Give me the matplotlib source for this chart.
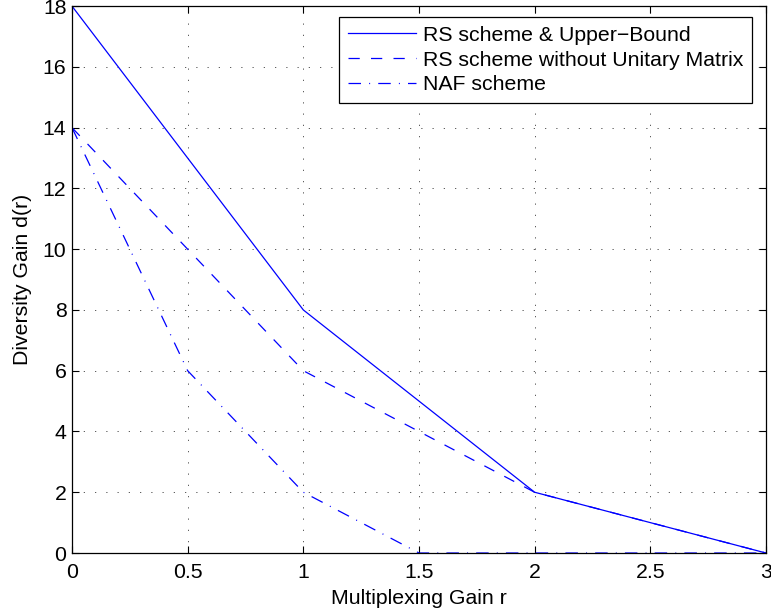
import matplotlib
matplotlib.use("Agg")
import matplotlib.pyplot as plt

plt.rcParams['font.family'] = ['Liberation Sans', 'DejaVu Sans']

# data
r = [0, 0.5, 1, 1.5, 2, 2.5, 3]
d_rs = [18, 13, 8, 5, 2, 1, 0]
d_rs_nounitary = [14, 10, 6, 4, 2, 1, 0]
d_naf = [14, 6, 2, 0, 0, 0, 0]
labels = ['RS scheme & Upper\u2212Bound',
          'RS scheme without Unitary Matrix',
          'NAF scheme']
xticks = [0, 0.5, 1, 1.5, 2, 2.5, 3]
xticklabels = ['0', '0.5', '1', '1.5', '2', '2.5', '3']
yticks = list(range(0, 19, 2))

fs = 15.3

fig = plt.figure(figsize=(7.71, 6.15), dpi=100)
ax = fig.add_axes([0.0934, 0.1008, 0.9001, 0.8892])

blue = '#0000ff'
ax.plot(r, d_rs, color=blue, lw=0.9, label=labels[0])
ax.plot(r, d_rs_nounitary, color=blue, lw=0.9, dashes=(9, 9), label=labels[1])
ax.plot(r, d_naf, color=blue, lw=0.9, dashes=(10, 6.5, 0.8, 6.5), label=labels[2])

ax.set_xlim(0, 3)
ax.set_ylim(0, 18)
ax.set_xticks(xticks)
ax.set_xticklabels(xticklabels)
ax.set_yticks(yticks)
ax.tick_params(direction='in', length=5, width=0.8, top=True, right=True,
               labelsize=fs)
ax.tick_params(axis='x', pad=7)
ax.tick_params(axis='y', pad=4)
for s in ax.spines.values():
    s.set_linewidth(0.9)

ax.grid(True, color='#404040', lw=0.6, linestyle=(0, (1.5, 12)))

ax.set_xlabel('Multiplexing Gain r', fontsize=fs, labelpad=5)
ax.set_ylabel('Diversity Gain d(r)', fontsize=fs, labelpad=8)

leg = ax.legend(loc='upper right', bbox_to_anchor=(0.98, 0.98), fontsize=fs,
                handlelength=3.2, handletextpad=0.35, labelspacing=0.28,
                borderpad=0.4, borderaxespad=0.0, fancybox=False, framealpha=1)
leg.get_frame().set_edgecolor('black')
leg.get_frame().set_linewidth(0.9)

fig.savefig('out.png', dpi=100)
